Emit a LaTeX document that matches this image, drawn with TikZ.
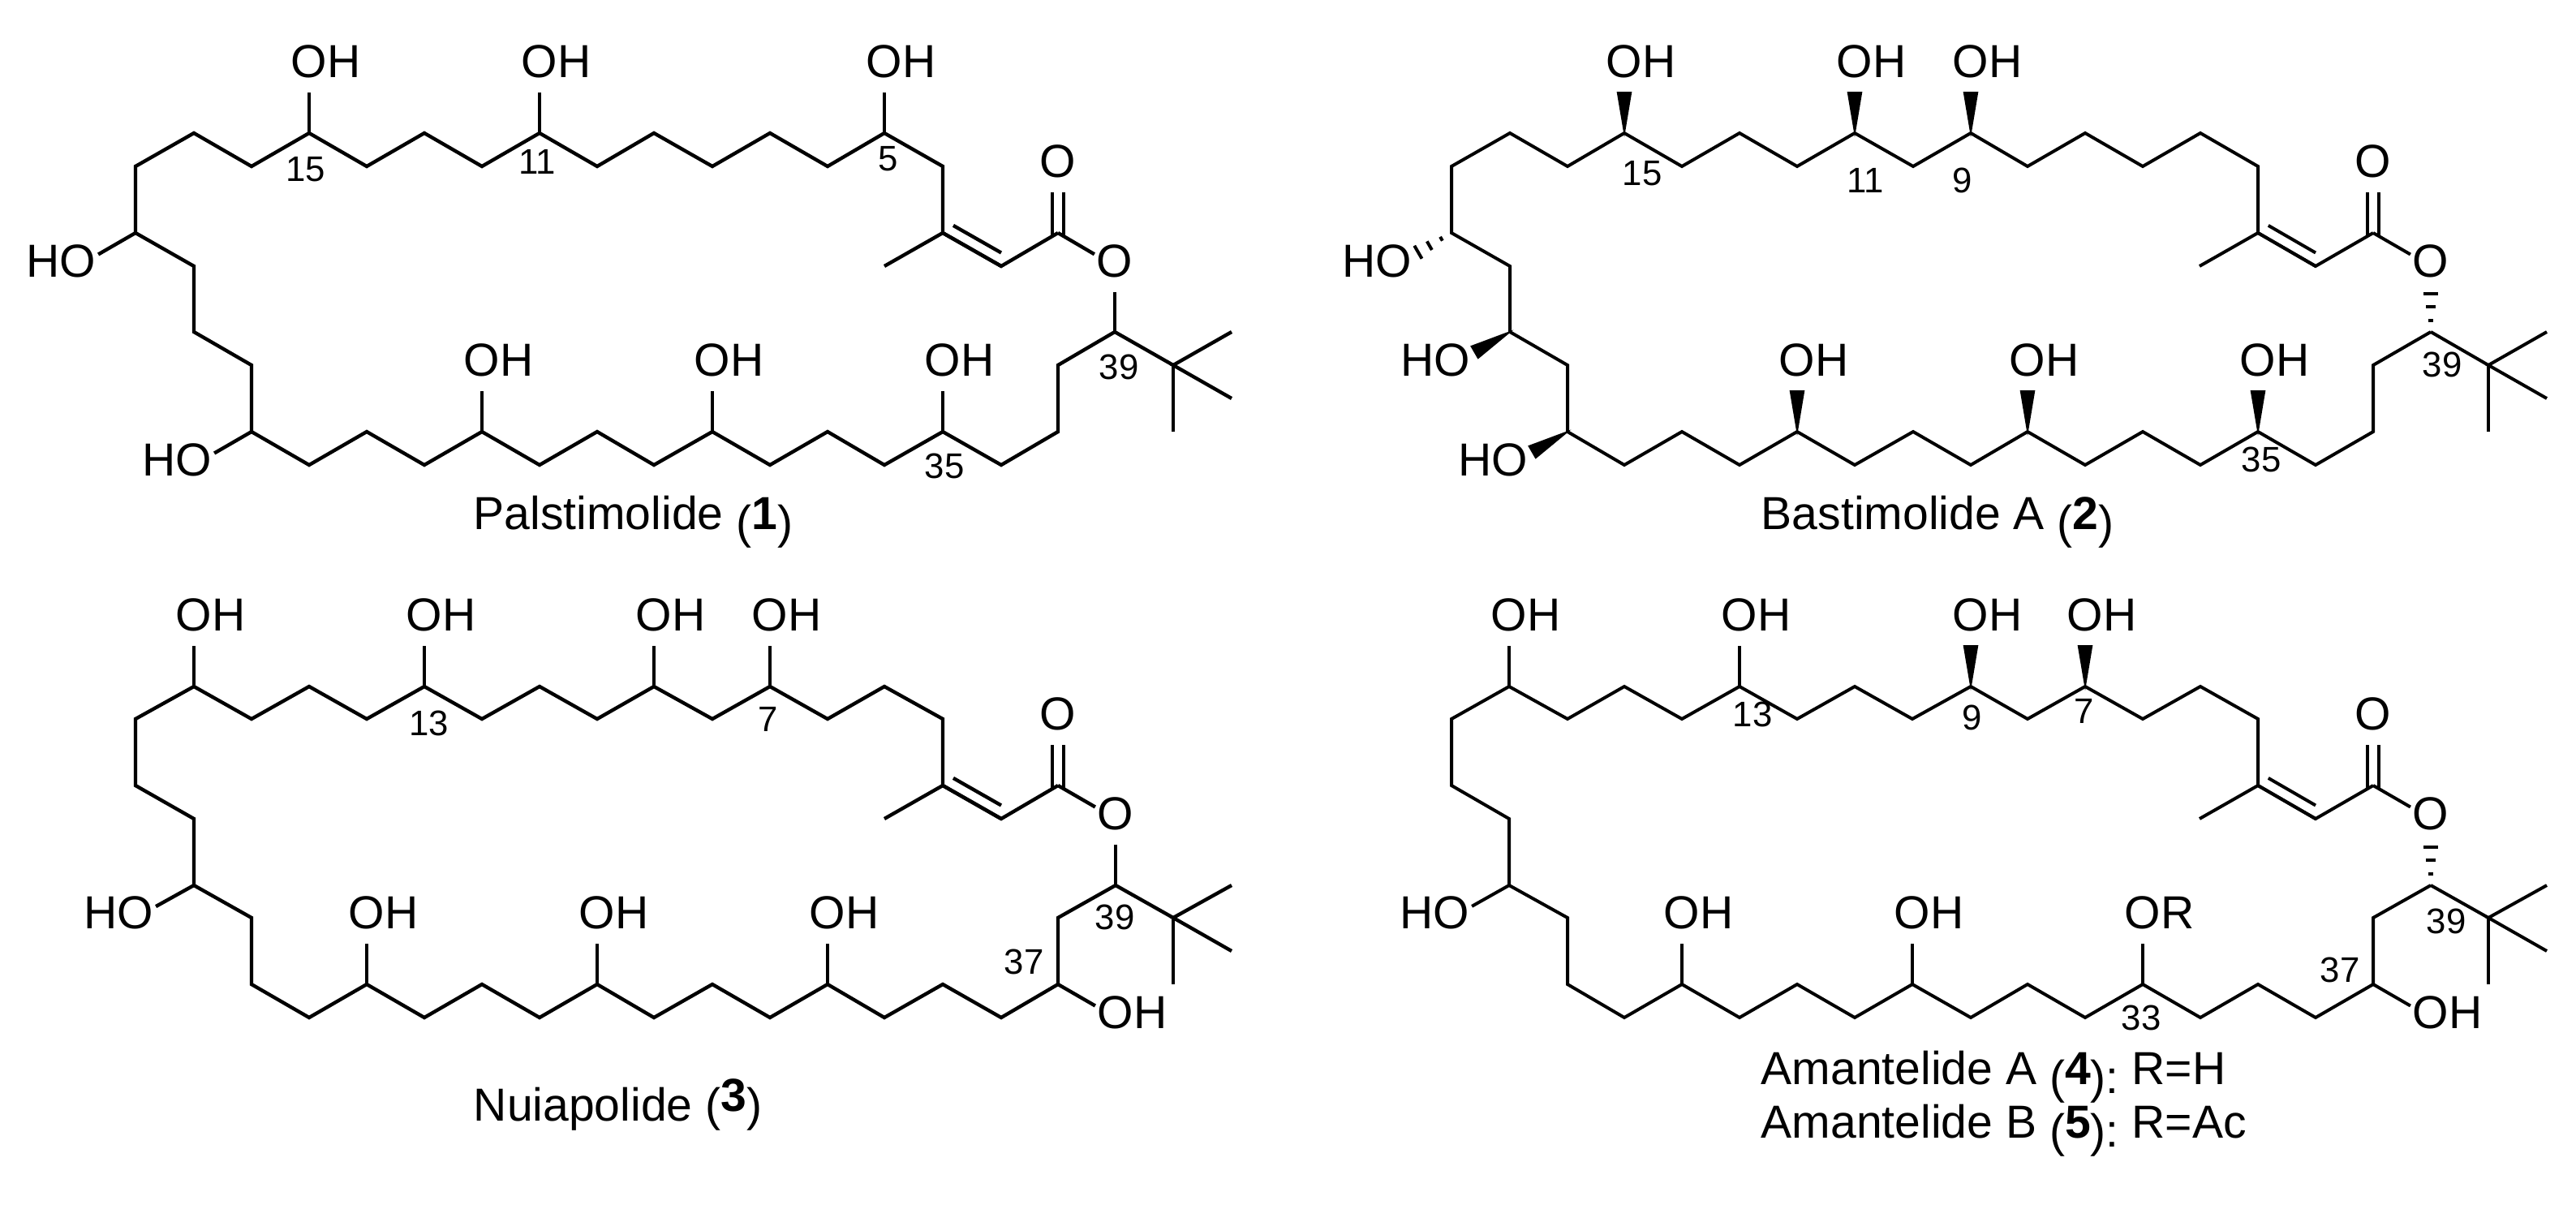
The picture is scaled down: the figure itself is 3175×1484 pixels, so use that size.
\documentclass[tikz,border=0pt]{standalone}
\usepackage{fontspec}
\setmainfont{Liberation Sans}
\usetikzlibrary{calc}
\tikzset{
  bond/.style={line width=1.05pt},
  atom/.style={font=\fontsize{13.7}{16}\selectfont,text height=10.08pt,text depth=3.6pt,inner xsep=.5pt,inner ysep=.6pt},
  locant/.style={font=\fontsize{10.5}{12}\selectfont,inner sep=0pt},
  caption/.style={font=\fontsize{13.7}{16}\selectfont,anchor=base west,inner sep=0pt},
}
% the box of an atom node is as wide as its O, the rest hangs out
\newcommand{\rhang}[1]{\rlap{#1}\phantom{O}}
\newcommand{\lhang}[1]{\phantom{O}\llap{#1}}
\newcommand{\drop}[1]{\raisebox{-2.8pt}{#1}}
\newcommand{\wedgebond}[2]{\filldraw[line width=.4pt] (#1) -- ($(#1)!.62!9.5:(#2)$) -- ($(#1)!.62!-9.5:(#2)$) -- cycle;}
\newcommand{\hashbond}[2]{\foreach \t in {.18,.39,.59}
  \draw[line width=.95pt] ($(#1)!\t!11:(#2)$) -- ($(#1)!\t!-11:(#2)$);}
\newcommand{\enebond}[2]{\draw[bond] (#1) -- (#2);
  \draw[bond] ($(#1)!.18!(#2)+(0,-16.5)$) -- ($(#2)+(0,-16.5)$);}
\newcommand{\carbonyl}[2]{\draw[bond] ([xshift=-1.7pt,yshift=-1pt]#1) -- ([xshift=-1.7pt]#2.south);
  \draw[bond] ([xshift=1.7pt,yshift=-1pt]#1) -- ([xshift=1.7pt]#2.south);}
\begin{document}
\begin{tikzpicture}[x=.24pt,y=-.24pt]
  \useasboundingbox (0,0) rectangle (3175,1484);

  % Palstimolide
  \foreach \px/\py [count=\i] in {1374/409,1304/450,1304/532,1234/573,1162/532,1090/573,1020/532,949/573,878/532,806/573,
    736/532,665/573,594/532,523/573,452/532,381/573,310/532,310/450,239/409,239/328,167/287,167/205,239/164,310/205,381/164,
    452/205,523/164,594/205,665/164,736/205,806/164,878/205,949/164,1020/205,1090/164,1162/205,1162/287,1234/328,1304/287}
    \coordinate (a\i) at (\px,\py);
  \draw[bond] (a1) \foreach \i in {2,...,39} { -- (a\i) };
  \coordinate (ame) at (1090,328);
  \coordinate (aq) at (1446,450);
  \coordinate (aq1) at (1518,409);
  \coordinate (aq2) at (1518,491);
  \coordinate (aq3) at (1446,532);
  \enebond{a37}{a38}
  \draw[bond] (a37) -- (ame);
  \draw[bond] (a1) -- (aq);
  \draw[bond] (aq1) -- (aq) -- (aq2);
  \draw[bond] (aq) -- (aq3);
  \node[atom] (aco) at (1304,205) {O};
  \node[atom] (aest) at (1374,328) {O};
  \carbonyl{a39}{aco}
  \draw[bond] (a39) -- (aest);
  \draw[bond] (aest) -- (a1);
  \foreach \i/\px/\py in {25/381/82,29/665/82,35/1090/82,13/594/450,9/878/450,5/1162/450} {
    \node[atom] (aoh\i) at (\px,\py) {\rhang{OH}};
    \draw[bond] (a\i) -- (aoh\i);
  }
  \foreach \i/\px/\py in {21/96/328,17/239/573} {
    \node[atom] (aoh\i) at (\px,\py) {\lhang{HO}};
    \draw[bond] (a\i) -- (aoh\i);
  }
  \node[locant] (al15) at (377,209) {15};
  \node[locant] (al11) at (662,199) {11};
  \node[locant] (al5) at (1095,196) {5};
  \node[locant] (al39) at (1379,452) {39};
  \node[locant] (al35) at (1164,574) {35};
  \node[caption] (acap) at (583,652) {Palstimolide \drop{(}\textbf{1}\drop{)}};

  % Nuiapolide
  \foreach \px/\py [count=\i] in {1375/1091,1304/1131,1304/1213,1234/1254,1162/1213,1090/1254,1020/1213,949/1254,878/1213,806/1254,
    736/1213,665/1254,594/1213,523/1254,452/1213,381/1254,310/1213,310/1131,239/1091,239/1009,167/968,167/886,239/846,310/886,381/846,
    452/886,523/846,594/886,665/846,736/886,806/846,878/886,949/846,1020/886,1090/846,1162/886,1162/968,1234/1009,1304/968}
    \coordinate (c\i) at (\px,\py);
  \draw[bond] (c1) \foreach \i in {2,...,39} { -- (c\i) };
  \coordinate (cme) at (1090,1009);
  \coordinate (cq) at (1446,1131);
  \coordinate (cq1) at (1518,1091);
  \coordinate (cq2) at (1518,1172);
  \coordinate (cq3) at (1446,1213);
  \enebond{c37}{c38}
  \draw[bond] (c37) -- (cme);
  \draw[bond] (c1) -- (cq);
  \draw[bond] (cq1) -- (cq) -- (cq2);
  \draw[bond] (cq) -- (cq3);
  \node[atom] (cco) at (1304,886) {O};
  \node[atom] (cest) at (1375,1009) {O};
  \carbonyl{c39}{cco}
  \draw[bond] (c39) -- (cest);
  \draw[bond] (cest) -- (c1);
  \foreach \i/\px/\py in {23/239/764,27/523/764,31/806/764,33/949/764,15/452/1131,11/736/1131,7/1020/1131,3/1375/1254} {
    \node[atom] (coh\i) at (\px,\py) {\rhang{OH}};
    \draw[bond] (c\i) -- (coh\i);
  }
  \node[atom] (coh19) at (167,1131) {\lhang{HO}};
  \draw[bond] (c19) -- (coh19);
  \node[locant] (cl13) at (529,891) {13};
  \node[locant] (cl7) at (947,886) {7};
  \node[locant] (cl39) at (1374,1130) {39};
  \node[locant] (cl37) at (1262,1185) {37};
  \node[caption] (ccap) at (583,1381) {Nuiapolide (\raisebox{2.8pt}{\textbf{3}})};

  \begin{scope}[bond/.style={line width=.95pt}]
    % Bastimolide A
    \foreach \px/\py [count=\i] in {2996/409,2925/450,2925/532,2854/573,2783/532,2712/573,2641/532,2570/573,2499/532,2429/573,
      2358/532,2286/573,2215/532,2144/573,2073/532,2002/573,1932/532,1932/450,1861/409,1861/328,1789/287,1789/205,1861/164,1932/205,2002/164,
      2073/205,2144/164,2215/205,2286/164,2358/205,2429/164,2499/205,2570/164,2641/205,2712/164,2783/205,2783/287,2854/328,2925/287}
      \coordinate (b\i) at (\px,\py);
    \draw[bond] (b1) \foreach \i in {2,...,39} { -- (b\i) };
    \coordinate (bme) at (2711,328);
    \coordinate (bq) at (3067,450);
    \coordinate (bq1) at (3139,409);
    \coordinate (bq2) at (3139,491);
    \coordinate (bq3) at (3067,532);
    \enebond{b37}{b38}
    \draw[bond] (b37) -- (bme);
    \draw[bond] (b1) -- (bq);
    \draw[bond] (bq1) -- (bq) -- (bq2);
    \draw[bond] (bq) -- (bq3);
    \node[atom] (bco) at (2925,205) {O};
    \node[atom] (best) at (2996,328) {O};
    \carbonyl{b39}{bco}
    \draw[bond] (b39) -- (best);
    \hashbond{b1}{best}
    \foreach \i/\px/\py in {25/2002/82,29/2286/82,31/2429/82,13/2215/450,9/2499/450,5/2783/450} {
      \node[atom] (boh\i) at (\px,\py) {\rhang{OH}};
      \wedgebond{b\i}{boh\i}
    }
    \foreach \i/\px/\py in {17/1861/573,19/1790/450} {
      \node[atom] (boh\i) at (\px,\py) {\lhang{HO}};
      \wedgebond{b\i}{boh\i}
    }
    \node[atom] (boh21) at (1718,328) {\lhang{HO}};
    \hashbond{b21}{boh21}
    \node[locant] (bl15) at (2024,214) {15};
    \node[locant] (bl11) at (2299,222) {11};
    \node[locant] (bl9) at (2419,222) {9};
    \node[locant] (bl39) at (3010,449) {39};
    \node[locant] (bl35) at (2787,566) {35};
    \node[caption] (bcap) at (2170,652) {Bastimolide A \drop{(}\textbf{2}\drop{)}};

    % Amantelide A and B
    \foreach \px/\py [count=\i] in {2996/1091,2925/1131,2925/1213,2854/1254,2783/1213,2712/1254,2641/1213,2570/1254,2499/1213,2429/1254,
      2357/1213,2286/1254,2215/1213,2144/1254,2073/1213,2002/1254,1932/1213,1932/1131,1860/1091,1860/1009,1789/968,1789/886,1860/846,1932/886,2002/846,
      2073/886,2144/846,2215/886,2286/846,2357/886,2429/846,2499/886,2570/846,2641/886,2712/846,2783/886,2783/968,2854/1009,2925/968}
      \coordinate (d\i) at (\px,\py);
    \draw[bond] (d1) \foreach \i in {2,...,39} { -- (d\i) };
    \coordinate (dme) at (2711,1009);
    \coordinate (dq) at (3067,1131);
    \coordinate (dq1) at (3139,1091);
    \coordinate (dq2) at (3139,1172);
    \coordinate (dq3) at (3067,1213);
    \enebond{d37}{d38}
    \draw[bond] (d37) -- (dme);
    \draw[bond] (d1) -- (dq);
    \draw[bond] (dq1) -- (dq) -- (dq2);
    \draw[bond] (dq) -- (dq3);
    \node[atom] (dco) at (2925,886) {O};
    \node[atom] (dest) at (2996,1009) {O};
    \carbonyl{d39}{dco}
    \draw[bond] (d39) -- (dest);
    \hashbond{d1}{dest}
    \foreach \i/\px/\py in {23/1860/764,27/2144/764,15/2073/1131,11/2357/1131,3/2996/1254} {
      \node[atom] (doh\i) at (\px,\py) {\rhang{OH}};
      \draw[bond] (d\i) -- (doh\i);
    }
    \foreach \i/\px in {31/2429,33/2570} {
      \node[atom] (doh\i) at (\px,764) {\rhang{OH}};
      \wedgebond{d\i}{doh\i}
    }
    \node[atom] (dor) at (2641,1131) {\rhang{OR}};
    \draw[bond] (d7) -- (dor);
    \node[atom] (doh19) at (1789,1131) {\lhang{HO}};
    \draw[bond] (d19) -- (doh19);
    \node[locant] (dl13) at (2160,880) {13};
    \node[locant] (dl9) at (2431,884) {9};
    \node[locant] (dl7) at (2569,876) {7};
    \node[locant] (dl33) at (2639,1254) {33};
    \node[locant] (dl37) at (2884,1195) {37};
    \node[locant] (dl39) at (3015,1135) {39};
    \node[caption] (dcap4) at (2170,1336) {Amantelide A \drop{(}\textbf{4}\drop{)}\drop{:} R=H};
    \node[caption] (dcap5) at (2170,1402) {Amantelide B \drop{(}\textbf{5}\drop{)}\drop{:} R=Ac};
  \end{scope}
\end{tikzpicture}
\end{document}
